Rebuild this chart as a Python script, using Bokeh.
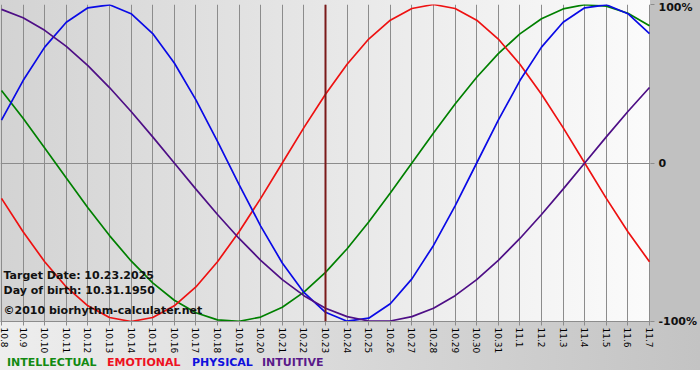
import math
from bokeh.plotting import figure
from bokeh.models import FixedTicker, Span, Label, Range1d, Div
from bokeh.layouts import column
from bokeh.embed import file_html
from bokeh.resources import INLINE

# ---- data ----
dates = ["10.8", "10.9", "10.10", "10.11", "10.12", "10.13", "10.14", "10.15",
         "10.16", "10.17", "10.18", "10.19", "10.20", "10.21", "10.22", "10.23",
         "10.24", "10.25", "10.26", "10.27", "10.28", "10.29", "10.30", "10.31",
         "11.1", "11.2", "11.3", "11.4", "11.5", "11.6", "11.7"]
days = list(range(len(dates)))

intellectual = [0.458, 0.282, 0.095, -0.095, -0.282, -0.458, -0.618, -0.756,
                -0.866, -0.945, -0.990, -0.999, -0.972, -0.910, -0.815, -0.690,
                -0.541, -0.372, -0.189, 0.000, 0.189, 0.372, 0.541, 0.690,
                0.815, 0.910, 0.972, 0.999, 0.990, 0.945, 0.866]
emotional = [-0.223, -0.434, -0.623, -0.782, -0.901, -0.975, -1.000, -0.975,
             -0.901, -0.782, -0.623, -0.434, -0.223, 0.000, 0.223, 0.434,
             0.623, 0.782, 0.901, 0.975, 1.000, 0.975, 0.901, 0.782,
             0.623, 0.434, 0.223, 0.000, -0.223, -0.434, -0.623]
physical = [0.270, 0.520, 0.731, 0.888, 0.979, 0.998, 0.942, 0.817,
            0.631, 0.398, 0.136, -0.136, -0.398, -0.631, -0.817, -0.942,
            -0.998, -0.979, -0.888, -0.731, -0.520, -0.270, 0.000, 0.270,
            0.520, 0.731, 0.888, 0.979, 0.998, 0.942, 0.817]
intuitive = [0.969, 0.916, 0.837, 0.736, 0.614, 0.476, 0.325, 0.165,
             0.000, -0.165, -0.325, -0.476, -0.614, -0.736, -0.837, -0.916,
             -0.969, -0.997, -0.997, -0.969, -0.916, -0.837, -0.736, -0.614,
             -0.476, -0.325, -0.165, 0.000, 0.165, 0.325, 0.476]

series_names = ["INTELLECTUAL", "EMOTIONAL", "PHYSICAL", "INTUITIVE"]
target_date = "10.23"
info_lines = ["Target Date: 10.23.2025", "Day of birth: 10.31.1950",
              "\u00a92010 biorhythm-calculater.net"]
y_ticks = [-1, 0, 1]
y_tick_labels = ["-100%", "0", "100%"]

# ---- styles ----
line_colors = ["#008000", "#ee1111", "#0a0ae6", "#4e0f86"]
legend_colors = ["#128a12", "#ee1122", "#1010dd", "#5a1a8a"]
legend_widths = [100, 85, 70, 80]
grid_color = "#8c8c8c"

p = figure(width=700, height=356,
           x_range=Range1d(-0.046, len(dates) - 1 + 0.046),
           y_range=Range1d(-1.0, 1.0),
           output_backend="svg", toolbar_location=None,
           y_axis_location="right",
           min_border_left=0, min_border_right=50,
           min_border_top=4, min_border_bottom=34)

p.styles = {
    "background": ("linear-gradient(#c1c1c1,#c1c1c1) 650px 0/50px 322px no-repeat, "
                   "linear-gradient(to right,#d3d3d3,#fbfbfb) 0 0/650px 322px no-repeat, "
                   "linear-gradient(to right,#eeeeee,#c3c3c3)"),
}
p.border_fill_color = None
p.background_fill_color = None
p.outline_line_color = None

# grid
p.xgrid.ticker = FixedTicker(ticks=days)
p.xgrid.grid_line_color = grid_color
p.ygrid.ticker = FixedTicker(ticks=[0])
p.ygrid.grid_line_color = grid_color

# x axis
p.xaxis.ticker = FixedTicker(ticks=days)
p.xaxis.major_label_overrides = {d: s for d, s in zip(days, dates)}
p.xaxis.major_label_orientation = -math.pi / 2
p.xaxis.major_label_text_font = "DejaVu Sans"
p.xaxis.major_label_text_font_size = "9px"
p.xaxis.major_label_text_color = "#000000"
p.xaxis.major_label_standoff = 2
p.xaxis.major_tick_in = 0
p.xaxis.major_tick_out = 4
p.xaxis.minor_tick_line_color = None
p.xaxis.major_tick_line_color = grid_color
p.xaxis.axis_line_color = grid_color

# right axis
p.yaxis.ticker = FixedTicker(ticks=y_ticks)
p.yaxis.major_label_overrides = {t: s for t, s in zip(y_ticks, y_tick_labels)}
p.yaxis.major_label_text_font = "DejaVu Sans"
p.yaxis.major_label_text_font_style = "bold"
p.yaxis.major_label_text_font_size = "11px"
p.yaxis.major_label_text_color = "#111111"
p.yaxis.major_label_standoff = 4
p.yaxis.major_tick_in = 0
p.yaxis.major_tick_out = 4
p.yaxis.major_tick_line_color = grid_color
p.yaxis.minor_tick_line_color = None
p.yaxis.axis_line_color = None

# target date line
p.add_layout(Span(location=dates.index(target_date), dimension="height",
                  line_color="#7a1a1a", line_width=2))

# curves
for vals, col in zip([intellectual, emotional, physical, intuitive], line_colors):
    p.line(days, vals, line_color=col, line_width=1.7)

# info texts (lower-left inside plot)
for txt, yy in zip(info_lines, [46, 31.5, 11.5]):
    p.add_layout(Label(x=3, y=yy, x_units="screen", y_units="screen", text=txt,
                       text_font="DejaVu Sans", text_font_style="bold",
                       text_font_size="11px", text_color="#111111",
                       text_baseline="alphabetic"))

# legend strip below the chart
legend_html = "".join(
    f'<span style="color:{c};display:inline-block;width:{w}px">{n}</span>'
    for n, c, w in zip(series_names, legend_colors, legend_widths))
legend = Div(text=legend_html, width=700, height=14, margin=(0, 0, 0, 0),
             styles={"background": "linear-gradient(to right,#eeeeee,#c3c3c3)",
                     "font-family": "DejaVu Sans", "font-weight": "bold",
                     "font-size": "11px", "line-height": "14px",
                     "padding-left": "7px", "box-sizing": "border-box",
                     "white-space": "nowrap", "overflow": "hidden"})

layout = column(p, legend, spacing=0)

open("out.html", "w").write(file_html(layout, INLINE))
